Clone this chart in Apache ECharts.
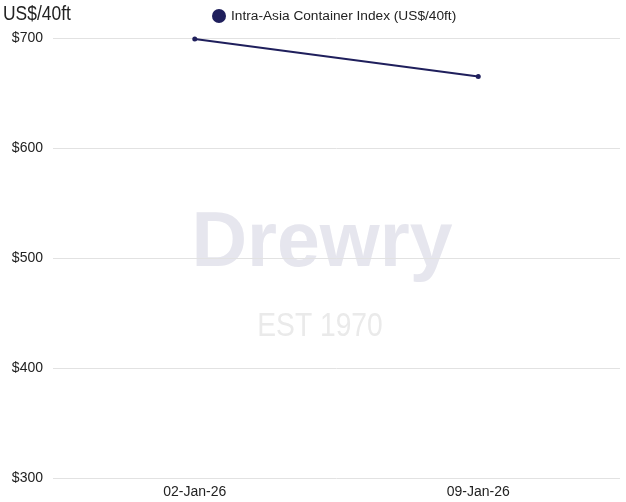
<!DOCTYPE html>
<html><head><meta charset="utf-8">
<script src="https://cdn.jsdelivr.net/npm/echarts@6/dist/echarts.min.js"></script>
<style>html,body{margin:0;padding:0;background:#fff}#c{width:626px;height:502px}</style>
</head><body><div id="c"></div>
<script>
const categories = ['02-Jan-26', '09-Jan-26'];
const seriesName = 'Intra-Asia Container Index (US$/40ft)';
const values = [699, 665];
const yTicks = { min: 300, max: 700, interval: 100 };
const unitTitle = 'US$/40ft';
const FONT = 'Liberation Sans, Arial, sans-serif';
const chart = echarts.init(document.getElementById('c'));
chart.setOption({
  animation: false,
  textStyle: { fontFamily: FONT },
  legend: {
    top: 4, left: 207, icon: 'circle', itemWidth: 14, itemHeight: 14, itemGap: 8,
    textStyle: { fontFamily: FONT, fontSize: 13.7, color: '#222' },
    data: [seriesName]
  },
  graphic: [
    { type: 'text', x: 3, y: 4, scaleX: 0.83, z: 10, style: { text: unitTitle, font: '21px ' + FONT, fill: '#222' } },
    { type: 'text', x: 322, y: 206, z: 0, style: { text: 'Drewry', textAlign: 'center', font: 'bold 77px ' + FONT, fill: '#e6e6ee' } },
    { type: 'text', x: 320, y: 310, scaleX: 0.83, z: 0, style: { text: 'EST 1970', textAlign: 'center', font: '34px ' + FONT, fill: '#eaeaea' } }
  ],
  grid: { left: 53, right: 6, top: 38, bottom: 24, containLabel: false },
  xAxis: {
    type: 'category', data: categories, boundaryGap: true,
    axisLine: { show: false }, axisTick: { show: false },
    axisLabel: { fontFamily: FONT, fontSize: 14, color: '#222', margin: 7 }
  },
  yAxis: {
    type: 'value', min: yTicks.min, max: yTicks.max, interval: yTicks.interval,
    axisLine: { show: false }, axisTick: { show: false },
    axisLabel: { fontFamily: FONT, fontSize: 14, color: '#222', margin: 10, formatter: v => '$' + v },
    splitLine: { lineStyle: { color: '#e2e2e2', width: 1 } }
  },
  series: [{
    name: seriesName, type: 'line', data: values,
    color: '#1f1f5c', symbol: 'circle', symbolSize: 5,
    lineStyle: { width: 2, color: '#1f1f5c' }, itemStyle: { color: '#1f1f5c' }, z: 5
  }]
});
</script></body></html>
